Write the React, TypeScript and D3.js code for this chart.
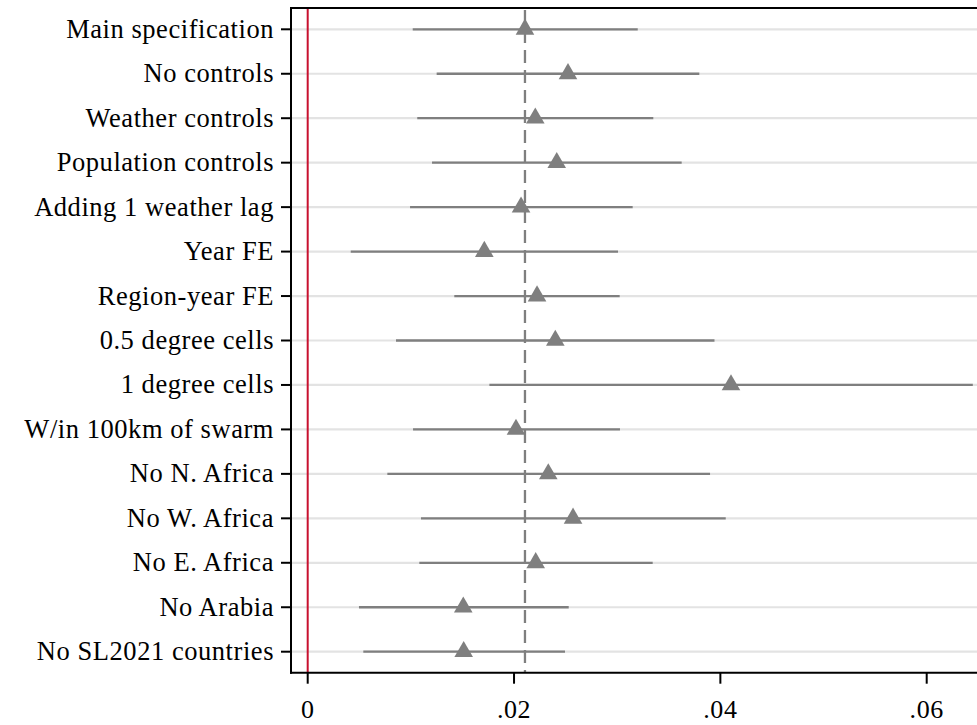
import React from "react";
import * as d3 from "d3";

const labels = [
  "Main specification",
  "No controls",
  "Weather controls",
  "Population controls",
  "Adding 1 weather lag",
  "Year FE",
  "Region-year FE",
  "0.5 degree cells",
  "1 degree cells",
  "W/in 100km of swarm",
  "No N. Africa",
  "No W. Africa",
  "No E. Africa",
  "No Arabia",
  "No SL2021 countries",
];
const estimates = [0.02106, 0.02523, 0.02206, 0.02414, 0.02068, 0.01712, 0.02223, 0.024, 0.04103, 0.02019, 0.02332, 0.02572, 0.0221, 0.01508, 0.01512];
const ciLow = [0.01018, 0.0125, 0.01062, 0.01205, 0.00992, 0.00417, 0.01421, 0.00856, 0.01761, 0.01021, 0.00772, 0.01098, 0.01082, 0.00497, 0.00539];
const ciHigh = [0.03199, 0.03796, 0.0335, 0.03625, 0.0315, 0.03008, 0.03024, 0.03943, 0.06447, 0.03027, 0.039, 0.04052, 0.03344, 0.0253, 0.02494];
const xTicks = [0, 0.02, 0.04, 0.06];
const xTickLabels = ["0", ".02", ".04", ".06"];
const refLine = 0.02106;

const W = 977;
const H = 725;
const left = 291;
const top = 8;
const bottom = 672.7;
const FONT = "'Liberation Serif', 'DejaVu Serif', serif";

export default function App() {
  const x = d3.scaleLinear().domain([0, 0.06]).range([307.7, 926.7]);
  const y = d3.scalePoint<string>().domain(labels).range([29.3, 651.7]);
  const tri = d3.symbol().type(d3.symbolTriangle).size(150)() as string;
  const gray = "#7f7f7f";

  return (
    <svg width={W} height={H} style={{ position: "absolute", left: 0, top: 0, background: "#fff" }}>
      <rect x={0} y={0} width={W} height={H} fill="#fff" />
      {labels.map((l) => (
        <line key={"g" + l} x1={left} x2={W} y1={y(l)} y2={y(l)} stroke="#e3e3e3" strokeWidth={2.2} />
      ))}
      <line x1={x(0)} x2={x(0)} y1={top} y2={bottom} stroke="#c8102e" strokeWidth={2} />
      {labels.map((l, i) => (
        <line key={"ci" + l} x1={x(ciLow[i])} x2={x(ciHigh[i])} y1={y(l)} y2={y(l)} stroke={gray} strokeWidth={2.3} />
      ))}
      <line x1={x(refLine)} x2={x(refLine)} y1={top + 2} y2={bottom} stroke={gray} strokeWidth={2.3} strokeDasharray="13 7" />
      {labels.map((l, i) => (
        <path key={"p" + l} d={tri} transform={`translate(${x(estimates[i])},${y(l)})`} fill={gray} />
      ))}
      <line x1={left} x2={W} y1={top} y2={top} stroke="#000" strokeWidth={2} />
      <line x1={left} x2={left} y1={top - 1} y2={bottom + 1} stroke="#000" strokeWidth={2} />
      <line x1={left - 1} x2={W} y1={bottom} y2={bottom} stroke="#000" strokeWidth={2} />
      {labels.map((l) => (
        <g key={"yt" + l}>
          <line x1={left - 10} x2={left} y1={y(l)} y2={y(l)} stroke="#000" strokeWidth={2} />
          <text x={274} y={(y(l) as number) + 8.5} textAnchor="end" fontFamily={FONT} fontSize={26.5} letterSpacing={0.55} fill="#000">
            {l}
          </text>
        </g>
      ))}
      {xTicks.map((t, i) => (
        <g key={"xt" + t}>
          <line x1={x(t)} x2={x(t)} y1={bottom} y2={bottom + 11} stroke="#000" strokeWidth={2} />
          <text x={x(t)} y={718} textAnchor="middle" fontFamily={FONT} fontSize={26} letterSpacing={0.6} fill="#000">
            {xTickLabels[i]}
          </text>
        </g>
      ))}
    </svg>
  );
}
